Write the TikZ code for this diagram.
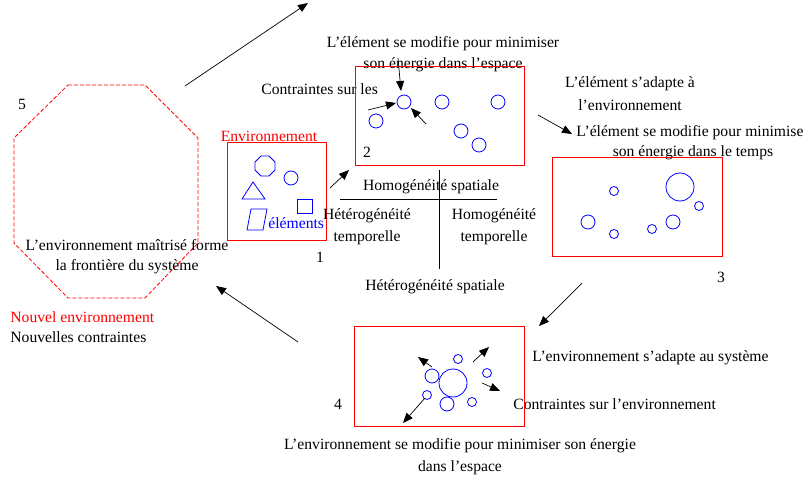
\documentclass[tikz,border=0pt]{standalone}
\usepackage{fontspec}
\setmainfont{Liberation Serif}
\usetikzlibrary{arrows.meta}
\begin{document}
\begin{tikzpicture}[x=1bp,y=-1bp,line width=0.8bp,
  txt/.style={inner sep=0pt,font=\fontsize{15.7}{18}\selectfont},
  redtxt/.style={txt,text=red},
  redbox/.style={draw=red,line width=1bp},
  elt/.style={draw=blue,line width=0.8bp},
  arr/.style={-{Triangle[length=10bp,width=8bp]},line width=0.7bp}]
\clip (0,0) rectangle (803,492);
\fill[white] (0,0) rectangle (803,492);

% ---------- box 5 : octagon ----------
\draw[red,line width=0.8bp,dash pattern=on 4bp off 2bp]
  (68,85) -- (145,85) -- (198,138) -- (198,243) -- (145,298) -- (68,298) -- (14,243) -- (14,138) -- cycle;
\node[txt] (n5) at (22,104) {5};
\node[txt] (front1) at (127,245) {L'environnement maîtrisé forme};
\node[txt] (front2) at (127,267) {la frontière du système};
\node[redtxt,anchor=west] (nouvenv) at (10,317) {Nouvel environnement};
\node[txt,anchor=west] (nouvcon) at (10,337) {Nouvelles contraintes};

% ---------- box 1 ----------
\node[redtxt] (env) at (269,136) {Environnement};
\draw[redbox] (227,143) rectangle (326,241);
\node[txt] (n1) at (320,257) {1};
\draw[elt] (261,156) -- (269,156) -- (275,162) -- (275,170) -- (269,176) -- (261,176) -- (255,170) -- (255,162) -- cycle;
\draw[elt] (291,178) circle[radius=7bp];
\draw[elt] (242,199) -- (265,199) -- (253,182) -- cycle;
\draw[elt] (297,199) rectangle (312,213);
\draw[elt] (251,209) -- (267,209) -- (263,230) -- (247,230) -- cycle;
\node[txt,text=blue,anchor=west] (elts) at (268,223) {éléments};

% ---------- box 2 ----------
\node[txt] (t2a) at (443,44) {L'élément se modifie pour minimiser};
\node[txt] (t2b) at (443,65) {son énergie dans l'espace};
\node[txt,anchor=west] (t2c) at (261,89) {Contraintes sur les};
\draw[redbox] (355,67) rectangle (524,166);
\node[txt] (n2) at (367,152) {2};
\node[elt,circle,inner sep=0pt,minimum size=14bp] (e21) at (404,102) {};
\draw[elt] (442,102) circle[radius=7bp];
\draw[elt] (498,102) circle[radius=7bp];
\draw[elt] (376,121) circle[radius=7bp];
\draw[elt] (461,131) circle[radius=7bp];
\draw[elt] (479,145) circle[radius=7bp];
\coordinate (a21) at (398,58);
\coordinate (a22) at (368,110);
\coordinate (a23) at (426,124);
\draw[arr] (a21) -- (401,91);
\draw[arr] (a22) -- (396,103);
\draw[arr] (a23) -- (411,108);

% ---------- centre ----------
\draw[line width=0.8bp] (340,199) coordinate (hl) -- (497,199) coordinate (hr);
\draw[line width=0.8bp] (439,170) coordinate (vt) -- (439,269) coordinate (vb);
\node[txt] (hsp) at (431,187) {Homogénéité spatiale};
\node[txt] (het1) at (367,216) {Hétérogénéité};
\node[txt] (het2) at (367,238) {temporelle};
\node[txt] (hom1) at (494,216) {Homogénéité};
\node[txt] (hom2) at (494,238) {temporelle};
\node[txt] (hesp) at (435,287) {Hétérogénéité spatiale};

% ---------- box 3 ----------
\node[txt] (t3a) at (630,84) {L'élément s'adapte à};
\node[txt] (t3b) at (630,105) {l'environnement};
\node[txt,anchor=west] (t3c) at (576,133) {L'élément se modifie pour minimiser};
\node[txt] (t3d) at (693,153) {son énergie dans le temps};
\draw[redbox] (552,158) rectangle (722,257);
\node[txt] (n3) at (721,277) {3};
\draw[elt] (614,191) circle[radius=4.5bp];
\draw[elt] (680,187) circle[radius=14bp];
\draw[elt] (699,206) circle[radius=4.5bp];
\draw[elt] (588,222) circle[radius=7bp];
\draw[elt] (673,222) circle[radius=7bp];
\draw[elt] (614,234) circle[radius=4.5bp];
\draw[elt] (652,229) circle[radius=4.5bp];

% ---------- box 4 ----------
\node[txt,anchor=west] (t4a) at (532,358) {L'environnement s'adapte au système};
\node[txt,anchor=west] (t4b) at (513,404) {Contraintes sur l'environnement};
\node[txt] (t4c) at (460,446) {L'environnement se modifie pour minimiser son énergie};
\node[txt] (t4d) at (460,468) {dans l'espace};
\draw[redbox] (354,326) rectangle (524,426);
\node[txt] (n4) at (338,404) {4};
\draw[elt] (453,383) circle[radius=14bp];
\draw[elt] (432,376) circle[radius=7bp];
\draw[elt] (458,359) circle[radius=4.5bp];
\draw[elt] (487,373) circle[radius=4.5bp];
\draw[elt] (427,395) circle[radius=4.5bp];
\draw[elt] (447,404) circle[radius=7bp];
\draw[elt] (472,402) circle[radius=4.5bp];
\coordinate (b41) at (432,367);
\coordinate (b42) at (473,362);
\coordinate (b43) at (482,383);
\coordinate (b44) at (425,398);
\draw[arr] (b41) -- (418,357);
\draw[arr] (b42) -- (489,347);
\draw[arr] (b43) -- (500,391);
\draw[arr] (b44) -- (403,423);

% ---------- cycle arrows ----------
\coordinate (c12s) at (330,188);
\coordinate (c12e) at (349,170);
\draw[arr] (c12s) -- (c12e);
\coordinate (c23s) at (538,115);
\coordinate (c23e) at (572,134);
\draw[arr] (c23s) -- (c23e);
\coordinate (c34s) at (582,283);
\coordinate (c34e) at (539,326);
\draw[arr] (c34s) -- (c34e);
\coordinate (c45s) at (298,342);
\coordinate (c45e) at (216,286);
\draw[arr] (c45s) -- (c45e);
\coordinate (c5s) at (185,86);
\coordinate (c5e) at (308,3);
\draw[arr] (c5s) -- (c5e);
\end{tikzpicture}
\end{document}
